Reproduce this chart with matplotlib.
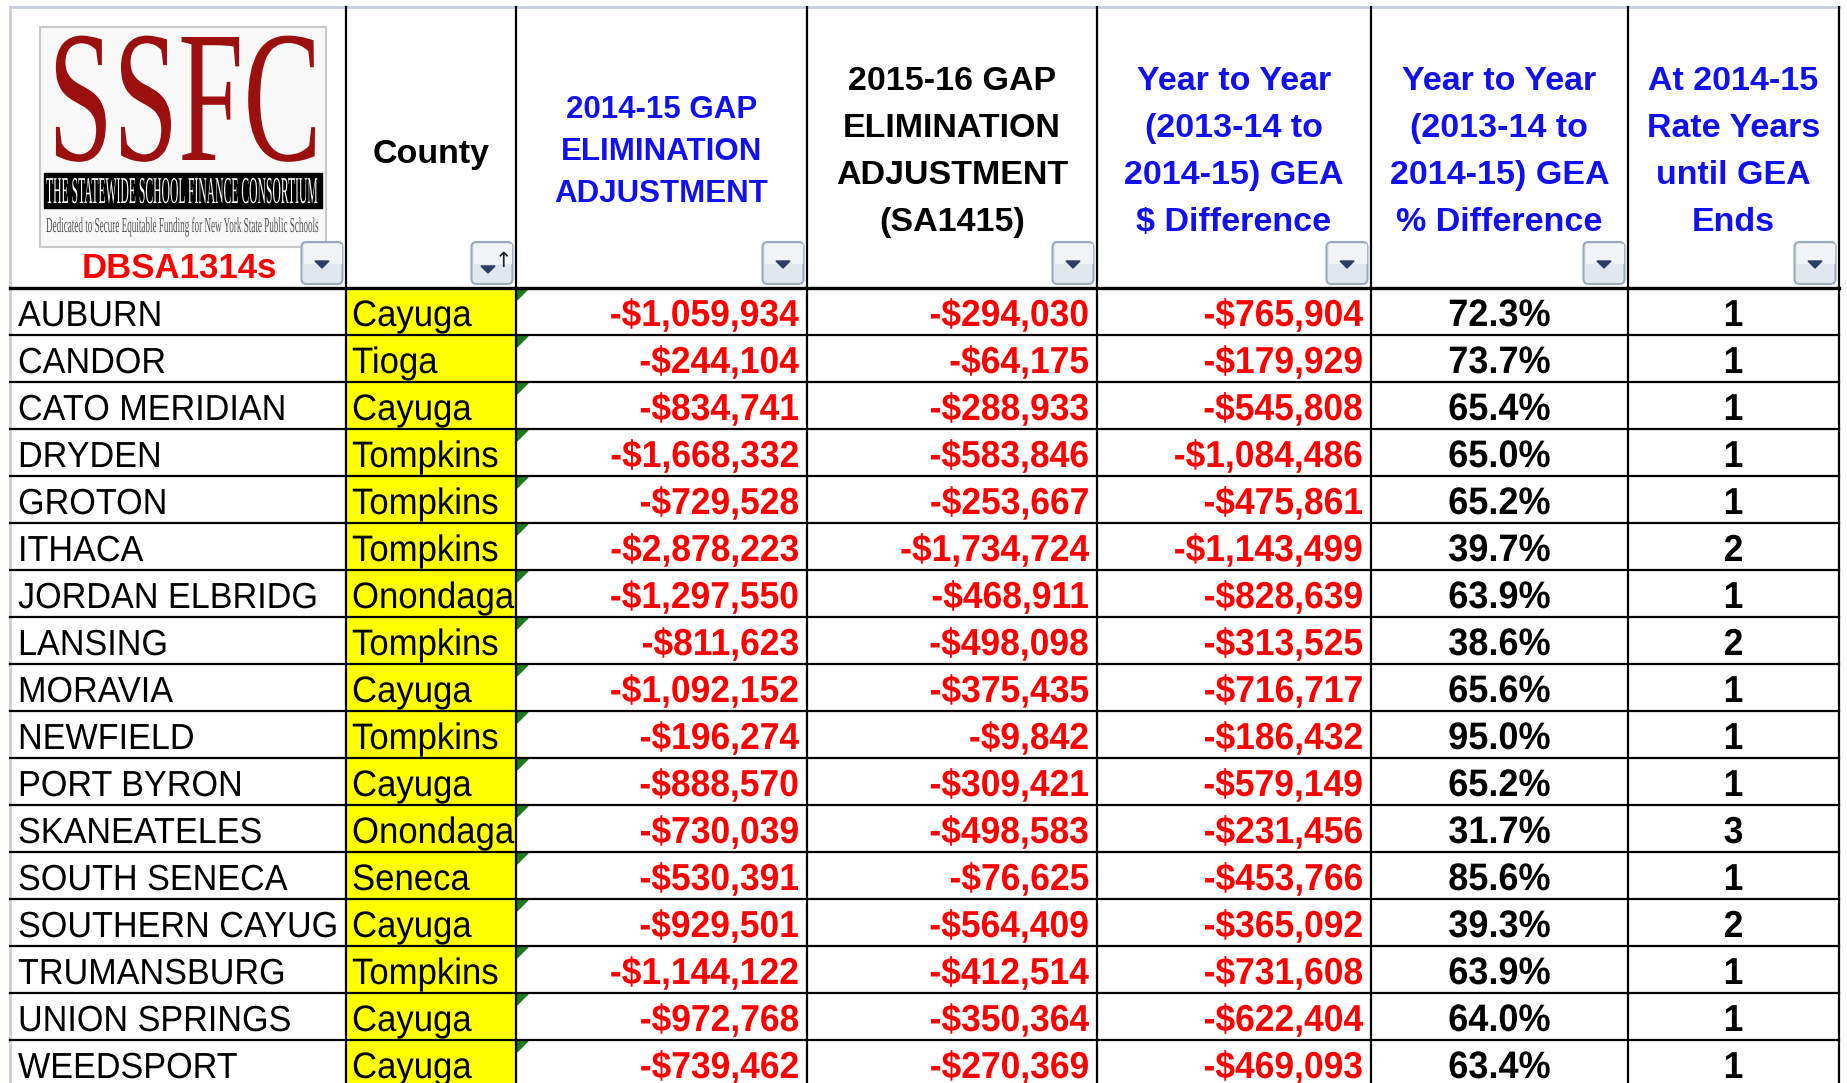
import matplotlib
matplotlib.use('Agg')
import matplotlib.pyplot as plt
from matplotlib.patches import Rectangle, Polygon, FancyBboxPatch
from matplotlib.patheffects import AbstractPathEffect
from matplotlib.transforms import Affine2D

plt.rcParams['font.family'] = ['Liberation Sans', 'DejaVu Sans']

# table data
districts = ['AUBURN', 'CANDOR', 'CATO MERIDIAN', 'DRYDEN', 'GROTON', 'ITHACA',
             'JORDAN ELBRIDG', 'LANSING', 'MORAVIA', 'NEWFIELD', 'PORT BYRON',
             'SKANEATELES', 'SOUTH SENECA', 'SOUTHERN CAYUG', 'TRUMANSBURG',
             'UNION SPRINGS', 'WEEDSPORT']
counties = ['Cayuga', 'Tioga', 'Cayuga', 'Tompkins', 'Tompkins', 'Tompkins',
            'Onondaga', 'Tompkins', 'Cayuga', 'Tompkins', 'Cayuga', 'Onondaga',
            'Seneca', 'Cayuga', 'Tompkins', 'Cayuga', 'Cayuga']
gea_2014_15 = [-1059934, -244104, -834741, -1668332, -729528, -2878223, -1297550,
               -811623, -1092152, -196274, -888570, -730039, -530391, -929501,
               -1144122, -972768, -739462]
gea_2015_16 = [-294030, -64175, -288933, -583846, -253667, -1734724, -468911,
               -498098, -375435, -9842, -309421, -498583, -76625, -564409,
               -412514, -350364, -270369]
diff_dollars = [-765904, -179929, -545808, -1084486, -475861, -1143499, -828639,
                -313525, -716717, -186432, -579149, -231456, -453766, -365092,
                -731608, -622404, -469093]
diff_percent = [72.3, 73.7, 65.4, 65.0, 65.2, 39.7, 63.9, 38.6, 65.6, 95.0, 65.2,
                31.7, 85.6, 39.3, 63.9, 64.0, 63.4]
years_until_end = [1, 1, 1, 1, 1, 2, 1, 2, 1, 1, 1, 3, 1, 2, 1, 1, 1]

sheet_label = 'DBSA1314s'
headers = [None,
           ['County'],
           ['2014-15 GAP', 'ELIMINATION', 'ADJUSTMENT'],
           ['2015-16 GAP', 'ELIMINATION', 'ADJUSTMENT', '(SA1415)'],
           ['Year to Year', '(2013-14 to', '2014-15) GEA', '$ Difference'],
           ['Year to Year', '(2013-14 to', '2014-15) GEA', '% Difference'],
           ['At 2014-15', 'Rate Years', 'until GEA', 'Ends']]

BLUE = '#1010f0'
RED = '#ff0000'
header_colors = [None, 'black', BLUE, 'black', BLUE, BLUE, BLUE]
header_sizes = [None, 24.5, 22.5, 24.5, 24.5, 24.5, 24.5]
header_spacing = [None, 47, 42, 47, 47, 47, 47]

# layout in pixels
W, H = 1847, 1083
col_edges = [10, 346, 516, 807, 1097, 1371, 1628, 1839]
top = 7
head_bottom = 288
row_h = 47
header_mid = 152
BODY_SY = 1.06


class Stretch(AbstractPathEffect):
    # scales glyphs about the text baseline-left origin
    def __init__(self, sx=1.0, sy=1.0):
        super().__init__()
        self.sx, self.sy = sx, sy

    def draw_path(self, renderer, gc, tpath, affine, rgbFace=None):
        renderer.draw_path(gc, tpath, Affine2D().scale(self.sx, self.sy) + affine, rgbFace)


fig = plt.figure(figsize=(W / 100, H / 100), dpi=100)
ax = fig.add_axes([0, 0, 1, 1])
ax.set_xlim(0, W)
ax.set_ylim(H, 0)
ax.axis('off')
renderer = fig.canvas.get_renderer()


def fit_text(x0, x1, baseline, cap_h, s, size, **kw):
    # small real text, stretched to fill the box (logo lettering)
    t = ax.text(x0, baseline, s, fontsize=size, ha='left', va='baseline', **kw)
    w = t.get_window_extent(renderer).width
    t.set_path_effects([Stretch((x1 - x0) / w, cap_h / (0.66 * size * 100 / 72))])
    return t


def body_text(x, baseline, s, ha, **kw):
    t = ax.text(x, baseline, s, ha=ha, va='baseline', zorder=4, **kw)
    t.set_path_effects([Stretch(1.0, BODY_SY)])
    return t


def filter_button(right, sort=False):
    x0, y0, bw, bh = right - 44, 242, 41, 42
    ax.add_patch(FancyBboxPatch((x0, y0), bw, bh, boxstyle='round,pad=0,rounding_size=5',
                                facecolor='#e2e7ee', edgecolor='#9aa9bd', lw=1.5, zorder=5))
    ax.add_patch(Rectangle((x0 + 2, y0 + 2), bw - 4, bh / 2 - 2, color='#f1f3f6', zorder=5))
    cx = x0 + bw / 2 - (4 if sort else 0)
    cy = y0 + bh / 2 + (6 if sort else 1)
    ax.add_patch(Polygon([(cx - 7, cy - 3), (cx + 7, cy - 3), (cx, cy + 4)],
                         color='#2c3d63', zorder=6))
    if sort:
        ax.text(x0 + bw - 9, y0 + 19, '\u2191', fontsize=15, color='#222222',
                family='DejaVu Sans', ha='center', va='center', zorder=6)


# logo
ax.add_patch(Rectangle((40, 27), 286, 220, facecolor='#f8f8f8', edgecolor='#c9c9c9', lw=1.5, zorder=2))
fit_text(48, 322, 160, 124, 'SSFC', 40, color='#9c0f0f', family='Liberation Serif', zorder=3)
ax.add_patch(Rectangle((44, 173), 278, 35, color='black', zorder=3))
fit_text(46, 320, 203, 25, 'THE STATEWIDE SCHOOL FINANCE CONSORTIUM', 6,
         color='white', family='Liberation Serif', zorder=4)
fit_text(46, 320, 232, 14, 'Dedicated to Secure Equitable Funding for New York State Public Schools',
         5, color='#555555', family='Liberation Serif', zorder=4)
ax.text(179, 269, sheet_label, fontsize=25, fontweight='bold', color=RED,
        ha='center', va='center', zorder=4)

# header texts
for c in range(1, len(headers)):
    lines = headers[c]
    cx = (col_edges[c] + col_edges[c + 1]) / 2
    sp = header_spacing[c]
    mid = header_mid + (3 if c == 1 else 0)
    for k, line in enumerate(lines):
        y = mid + (k - (len(lines) - 1) / 2) * sp
        ax.text(cx, y, line, fontsize=header_sizes[c], fontweight='bold',
                color=header_colors[c], ha='center', va='center', zorder=4)

for c in range(len(headers)):
    filter_button(col_edges[c + 1] - 0.5, sort=(c == 1))

# body rows
money_cols = [gea_2014_15, gea_2015_16, diff_dollars]
for i, name in enumerate(districts):
    y0 = head_bottom + i * row_h
    base = y0 + 38
    ax.add_patch(Rectangle((col_edges[1], y0), col_edges[2] - col_edges[1], row_h,
                           color='#ffff00', zorder=1))
    ax.add_patch(Polygon([(col_edges[2] + 1, y0 + 1), (col_edges[2] + 12, y0 + 1),
                          (col_edges[2] + 1, y0 + 12)], color='#1b7a1b', zorder=3))
    body_text(col_edges[0] + 8, base, name, 'left', fontsize=24.6)
    body_text(col_edges[1] + 6, base, counties[i], 'left', fontsize=25)
    for k, vals in enumerate(money_cols):
        v = vals[i]
        body_text(col_edges[3 + k] - 8, base, f"-${abs(v):,}", 'right', fontsize=25.5,
                  fontweight='bold', color=RED)
    body_text((col_edges[5] + col_edges[6]) / 2, base, f"{diff_percent[i]:.1f}%", 'center',
              fontsize=26, fontweight='bold')
    body_text((col_edges[6] + col_edges[7]) / 2, base, str(years_until_end[i]), 'center',
              fontsize=25.5, fontweight='bold')

# grid lines
n_rows = len(districts)
ax.plot([col_edges[0], col_edges[-1]], [top, top], color='#c6cede', lw=2, zorder=6)
ax.plot([col_edges[0], col_edges[0]], [top, H], color='#c6cede', lw=2, zorder=6)
for x in col_edges[1:]:
    ax.plot([x, x], [top, H], color='black', lw=1.6, zorder=6)
ax.plot([col_edges[0], col_edges[-1]], [head_bottom, head_bottom], color='black', lw=2.4, zorder=6)
for i in range(1, n_rows + 1):
    y = head_bottom + i * row_h
    ax.plot([col_edges[0], col_edges[-1]], [y, y], color='black', lw=1.6, zorder=6)

fig.savefig('out.png', dpi=100)
